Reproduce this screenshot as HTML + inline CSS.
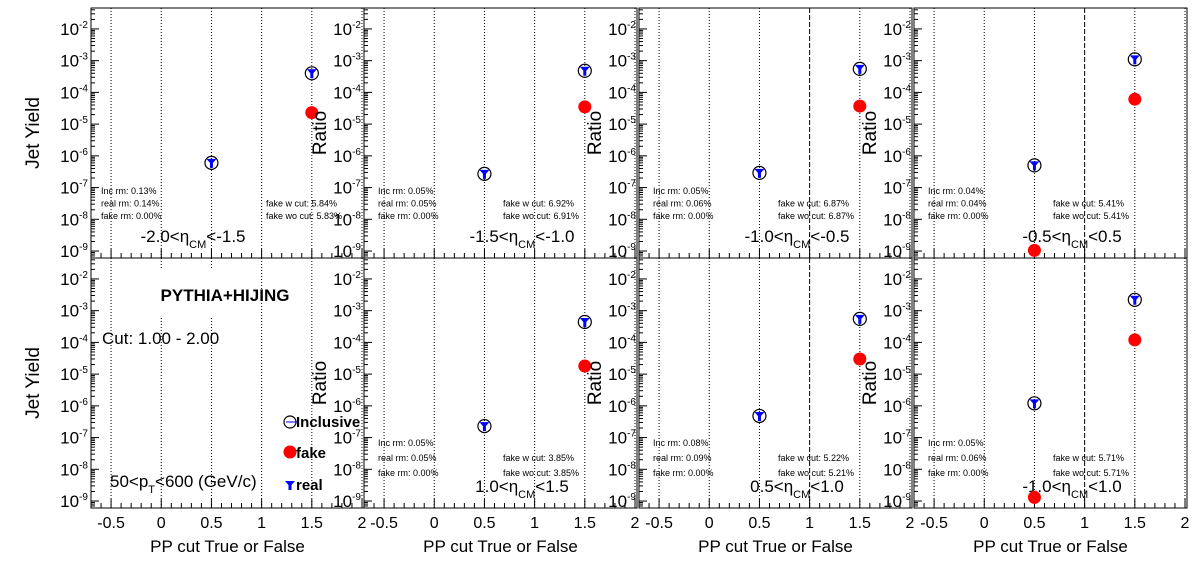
<!DOCTYPE html>
<html><head><meta charset="utf-8"><style>
html,body{margin:0;padding:0;background:#fff;}
svg{display:block;font-family:"Liberation Sans",Arial,sans-serif;}
</style></head><body>
<svg id="c" width="1196" height="572" viewBox="0 0 1196 572" xmlns="http://www.w3.org/2000/svg"></svg>
<script>
// ---- data ----
const padLabels = ["-2.0<η_CM<-1.5","-1.5<η_CM<-1.0","-1.0<η_CM<-0.5","-0.5<η_CM<0.5","","1.0<η_CM<1.5","0.5<η_CM<1.0","-1.0<η_CM<1.0"];
const xCategories = [0.5, 1.5];
const inclusiveLow = [6e-7, 2.7e-7, 2.9e-7, 5e-7, null, 2.3e-7, 4.8e-7, 1.2e-6];
const inclusiveHigh = [4e-4, 4.8e-4, 5.5e-4, 1.1e-3, null, 4.4e-4, 5.5e-4, 2.2e-3];
const realLow = [6e-7, 2.7e-7, 2.9e-7, 5e-7, null, 2.3e-7, 4.8e-7, 1.2e-6];
const realHigh = [4e-4, 4.8e-4, 5.5e-4, 1.1e-3, null, 4.4e-4, 5.5e-4, 2.2e-3];
const fakeLow = [null, null, null, 1.05e-9, null, null, null, 1.3e-9];
const fakeHigh = [2.3e-5, 3.5e-5, 3.7e-5, 6.1e-5, null, 1.8e-5, 3.0e-5, 1.2e-4];
const incRm = ["0.13%","0.05%","0.05%","0.04%","","0.05%","0.08%","0.05%"];
const realRm = ["0.14%","0.05%","0.06%","0.04%","","0.05%","0.09%","0.06%"];
const fakeRm = ["0.00%","0.00%","0.00%","0.00%","","0.00%","0.00%","0.00%"];
const fakeW = ["5.84%","6.92%","6.87%","5.41%","","3.85%","5.22%","5.71%"];
const fakeWo = ["5.83%","6.91%","6.87%","5.41%","","3.85%","5.21%","5.71%"];
const xTicks = [-0.5, 0, 0.5, 1, 1.5, 2];
const xTickLabels = ["-0.5","0","0.5","1","1.5","2"];
const yExps = [-2,-3,-4,-5,-6,-7,-8,-9];

// ---- layout ----
const NS="http://www.w3.org/2000/svg";
const svg=document.getElementById('c');
const frameL=[91,364,639,914], frameW=273;
const frameT=[8,258], frameH=250;
const X0=-0.7, X1=2.02;
const LOGTOP=-1.34, LOGBOT=-9.22;
function el(tag,attrs,parent){const e=document.createElementNS(NS,tag);for(const k in attrs)e.setAttribute(k,attrs[k]);(parent||svg).appendChild(e);return e;}
function txt(s,attrs,parent){const e=el('text',attrs,parent);e.textContent=s;return e;}

for(let p=0;p<8;p++){
  const col=p%4,row=Math.floor(p/4);
  const L=frameL[col],T=frameT[row];
  const g=el('g',{});
  
  
  const xs=v=>L+(v-X0)/(X1-X0)*frameW;
  const ys=v=>T+(LOGTOP-Math.log10(v))/(LOGTOP-LOGBOT)*frameH;
  xTicks.forEach(t=>{
    const dashed=(t===1&&(col>=2));
    const ln=el('line',{x1:xs(t),x2:xs(t),y1:T,y2:T+frameH,stroke:'#000','stroke-width':1,'stroke-dasharray':dashed?'5,2':'1,2'},g);
    
    
  });
  if(p===4){el('rect',{x:140,y:268,width:112,height:48,fill:'#fff'},g);}
  const fr=el('rect',{x:L,y:T,width:frameW,height:frameH,fill:'none',stroke:'#000','stroke-width':1},g);
  
  
  for(let i=-7;i<=20;i++){
    const v=i/10;const x=xs(v);const major=(i%5===0);
    el('line',{x1:x,x2:x,y1:T+frameH,y2:T+frameH-(major?9:5),stroke:'#000','stroke-width':1},g);
  }
  for(let e=-10;e<=-2;e++){
    for(let m=1;m<10;m++){
      const v=m*Math.pow(10,e);const lv=Math.log10(v);
      if(lv>LOGTOP||lv<LOGBOT)continue;
      const y=ys(v);
      el('line',{x1:L,x2:L+(m===1?8:4),y1:y,y2:y,stroke:'#000','stroke-width':1},g);
    }
  }
  yExps.forEach(e=>{
    const y=ys(Math.pow(10,e));
    const t=el('text',{x:L-3,y:y+6,'font-size':17,'text-anchor':'end'},g);
    
    
    const a=document.createElementNS(NS,'tspan');a.textContent='10';t.appendChild(a);
    const b=document.createElementNS(NS,'tspan');b.setAttribute('dy','-7');b.setAttribute('font-size','10');b.textContent=String(e);t.appendChild(b);
  });
  const yt=txt(col===0?'Jet Yield':'Ratio',{x:0,y:0,'font-size':19,'text-anchor':'middle',transform:`translate(${col===0?39:L-38},${T+125}) rotate(-90)`},g);
  
  
  if(row===1){
    xTicks.forEach((t,i)=>{
      const lb=txt(xTickLabels[i],{x:xs(t),y:T+frameH+20,'font-size':16,'text-anchor':'middle'},g);
      
      
    });
    const xt=txt('PP cut True or False',{x:L+frameW/2,y:552,'font-size':17,'text-anchor':'middle'},g);
    
    
  }
  if(p!==4){
    const by=T+(row===0?186:188);
    const sp=row===0?12.5:15;
    const lx=col===0?L+10:L+14, rx=col===0?L+175:L+139;
    [['Inc rm: '+incRm[p],0],['real rm: '+realRm[p],sp],['fake rm: '+fakeRm[p],2*sp]].forEach(([s,d])=>{
      const a=txt(s,{x:lx,y:by+d,'font-size':9},g);
      
      
    });
    [['fake w cut: '+fakeW[p],sp],['fake wo cut: '+fakeWo[p],2*sp]].forEach(([s,d])=>{
      const a=txt(s,{x:rx,y:by+d,'font-size':9},g);
      
      
    });
    const parts=padLabels[p].split('η_CM');
    const et=el('text',{x:L+(col===0?102:158),y:T+234,'font-size':17,'text-anchor':'middle'},g);
    
    
    const s1=document.createElementNS(NS,'tspan');s1.textContent=parts[0]+'η';et.appendChild(s1);
    const s2=document.createElementNS(NS,'tspan');s2.setAttribute('dy','6');s2.setAttribute('font-size','11');s2.textContent='CM';et.appendChild(s2);
    const s3=document.createElementNS(NS,'tspan');s3.setAttribute('dy','-6');s3.textContent=parts[1];et.appendChild(s3);
  }
  const series=[[inclusiveLow,inclusiveHigh,'inc'],[fakeLow,fakeHigh,'fake'],[realLow,realHigh,'real']];
  series.forEach(([lo,hi,kind])=>{
    [lo[p],hi[p]].forEach((v,i)=>{
      if(v==null)return;
      const x=xs(xCategories[i]),y=ys(v);
      let m;
      if(kind==='inc'){m=el('circle',{cx:x,cy:y,r:6.5,fill:'none',stroke:'#000','stroke-width':1.2},g);}
      else if(kind==='fake'){m=el('circle',{cx:x,cy:y,r:6.5,fill:'#f00'},g);}
      else{m=el('path',{d:`M${x-5},${y-4}L${x+5},${y-4}L${x+1.5},${y}L${x+1.5},${y+5}L${x-1.5},${y+5}L${x-1.5},${y}Z`,fill:'#00f'},g);}
      
      
    });
  });
}
const an=[['PYTHIA+HIJING',225,301,17,'bold','middle'],['Cut: 1.00 - 2.00',102,344,17,'normal','start']];
an.forEach(([s,x,y,fs,fw,ta])=>{
  const t=txt(s,{x:x,y:y,'font-size':fs,'font-weight':fw,'text-anchor':ta});
  
  
});
const pt=el('text',{x:110,y:487,'font-size':17});


pt.innerHTML='50&lt;p<tspan dy="6" font-size="11">T</tspan><tspan dy="-6">&lt;600 (GeV/c)</tspan>';
const lg=el('g',{});


el('circle',{cx:290,cy:422,r:6,fill:'none',stroke:'#000','stroke-width':1.2},lg);
el('line',{x1:286,x2:297,y1:422,y2:422,stroke:'#00f','stroke-width':1},lg);
el('circle',{cx:290,cy:452,r:6.5,fill:'#f00'},lg);
el('path',{d:'M285,481L295,481L291.5,485L291.5,490L288.5,490L288.5,485Z',fill:'#00f'},lg);
[['Inclusive',427],['fake',458],['real',490]].forEach(([s,y])=>{
  const t=txt(s,{x:296,y:y,'font-size':15,'font-weight':'bold'},lg);
  
  
});
</script>
</body></html>
